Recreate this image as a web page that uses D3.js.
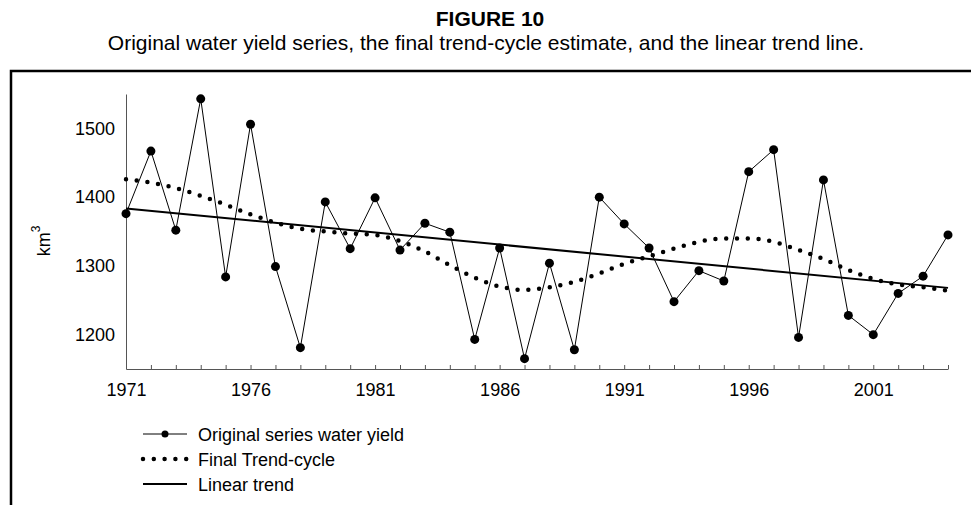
<!DOCTYPE html>
<html>
<head>
<meta charset="utf-8">
<script src="https://cdn.jsdelivr.net/npm/d3@7"></script>
<style>
  body { margin: 0; background: #fff; }
  svg { display: block; font-family: 'Liberation Sans', Arial, sans-serif; }
</style>
</head>
<body>
<div id="chart"></div>
<script>
// data
const years = d3.range(1971, 2005);
const waterYield = [
  1376, 1467, 1352, 1543, 1284, 1506, 1299, 1181, 1393, 1325,
  1399, 1323, 1362, 1349, 1193, 1326, 1165, 1304, 1178, 1400,
  1361, 1326, 1248, 1293, 1278, 1437, 1469, 1196, 1425, 1228,
  1200, 1260, 1285, 1345,
];
const trendCycle = [
  1426, 1421, 1413, 1402, 1389, 1375, 1363, 1354, 1350, 1347,
  1345, 1336, 1321, 1301, 1283, 1270, 1265, 1269, 1277, 1289,
  1303, 1314, 1325, 1335, 1340, 1340, 1335, 1323, 1310, 1294,
  1281, 1273, 1269, 1264,
];
const linearYears = [1971, 2004];
const linearTrend = [1383.5, 1268];
const yTicks = [1200, 1300, 1400, 1500];
const labelYears = [1971, 1976, 1981, 1986, 1991, 1996, 2001];
const legendLabels = ['Original series water yield', 'Final Trend-cycle', 'Linear trend'];

const size = { width: 971, height: 505 };
const margin = { left: 126, right: 23, top: 94, bottom: 136 };

const svg = d3.select('#chart').append('svg')
  .attr('width', size.width)
  .attr('height', size.height);

// titles
svg.append('text')
  .attr('x', 490).attr('y', 26)
  .attr('text-anchor', 'middle')
  .style('font-size', '21px')
  .style('font-weight', 'bold')
  .text('FIGURE 10');
svg.append('text')
  .attr('x', 486).attr('y', 50)
  .attr('text-anchor', 'middle')
  .style('font-size', '21px')
  .text('Original water yield series, the final trend-cycle estimate, and the linear trend line.');

// frame (left + top edge only, the rest is off the page)
svg.append('path')
  .attr('d', `M11,${size.height}V71H${size.width}`)
  .attr('fill', 'none')
  .attr('stroke', '#000')
  .attr('stroke-width', 2.5);

const x = d3.scaleLinear()
  .domain([1971, 2004])
  .range([margin.left, size.width - margin.right]);
const y = d3.scaleLinear()
  .domain([1150, 1550])
  .range([size.height - margin.bottom, margin.top]);

const xAxis = svg.append('g')
  .attr('transform', `translate(0,${size.height - margin.bottom})`)
  .call(d3.axisBottom(x)
    .tickValues(years)
    .tickSizeInner(-4)
    .tickSizeOuter(0)
    .tickPadding(14)
    .tickFormat((d) => (labelYears.includes(d) ? d : '')));
xAxis.selectAll('text').style('font-size', '18px').attr('fill', '#000');
xAxis.selectAll('line, path').attr('stroke', '#555');

const yAxis = svg.append('g')
  .attr('transform', `translate(${margin.left},0)`)
  .call(d3.axisLeft(y)
    .tickValues(yTicks)
    .tickFormat(d3.format('d'))
    .tickSize(0)
    .tickPadding(11));
yAxis.selectAll('text').style('font-size', '18px').attr('fill', '#000');
yAxis.selectAll('line, path').attr('stroke', '#555');

const yLab = svg.append('text')
  .attr('transform', 'translate(50,241) rotate(-90)')
  .attr('text-anchor', 'middle')
  .style('font-size', '18px');
yLab.append('tspan').text('km');
yLab.append('tspan').attr('dy', '-0.85em').style('font-size', '12px').text('3');

// linear trend
const lin = linearYears.map((yr, i) => ({ year: yr, v: linearTrend[i] }));
svg.append('path')
  .attr('d', d3.line().x((d) => x(d.year)).y((d) => y(d.v))(lin))
  .attr('fill', 'none')
  .attr('stroke', '#000')
  .attr('stroke-width', 2);

// trend-cycle, drawn as round dots
const tc = years.map((yr, i) => ({ year: yr, v: trendCycle[i] }));
svg.append('path')
  .attr('d', d3.line().curve(d3.curveMonotoneX).x((d) => x(d.year)).y((d) => y(d.v))(tc))
  .attr('fill', 'none')
  .attr('stroke', '#000')
  .attr('stroke-width', 4.5)
  .attr('stroke-linecap', 'round')
  .attr('stroke-dasharray', '0 10.8');

// original series
const orig = years.map((yr, i) => ({ year: yr, v: waterYield[i] }));
svg.append('path')
  .attr('d', d3.line().x((d) => x(d.year)).y((d) => y(d.v))(orig))
  .attr('fill', 'none')
  .attr('stroke', '#000')
  .attr('stroke-width', 1);
svg.selectAll('circle.pt')
  .data(orig)
  .join('circle')
  .attr('class', 'pt')
  .attr('cx', (d) => x(d.year))
  .attr('cy', (d) => y(d.v))
  .attr('r', 4.5)
  .attr('fill', '#000');

// legend
const legend = svg.append('g');
legendLabels.forEach((lab, i) => {
  const ly = 434 + i * 25;
  const g = legend.append('g');
  if (i === 0) {
    g.append('line').attr('x1', 143).attr('x2', 187).attr('y1', ly).attr('y2', ly)
      .attr('stroke', '#000').attr('stroke-width', 1);
    g.append('circle').attr('cx', 165).attr('cy', ly).attr('r', 3.5).attr('fill', '#000');
  } else if (i === 1) {
    g.append('line').attr('x1', 143).attr('x2', 187).attr('y1', ly).attr('y2', ly)
      .attr('stroke', '#000').attr('stroke-width', 4.5)
      .attr('stroke-linecap', 'round').attr('stroke-dasharray', '0 10.8');
  } else {
    g.append('line').attr('x1', 143).attr('x2', 187).attr('y1', ly).attr('y2', ly)
      .attr('stroke', '#000').attr('stroke-width', 2);
  }
  g.append('text')
    .attr('x', 198).attr('y', ly + 6.5)
    .style('font-size', '18px')
    .text(lab);
});
</script>
</body>
</html>
